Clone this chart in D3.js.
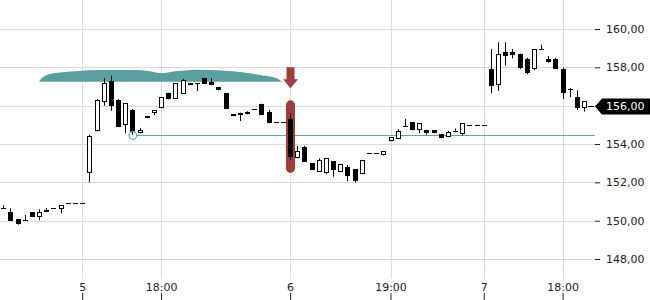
<!DOCTYPE html>
<html lang="de">
<head>
<meta charset="UTF-8">
<title>Kursverlauf</title>
<script src="https://cdn.jsdelivr.net/npm/d3@7/dist/d3.min.js"></script>
<style>
    body { margin: 0; background: #fff; }
    text { font-family: "DejaVu Sans", sans-serif; }
</style>
</head>
<body>
<svg width="650" height="300" id="mainsvg"></svg>
<script>
    // candles (30 min)
    const opens = [150.68, 150.44, 150.07, 150.02, 150.44, 150.18, 150.56, 150.66, 150.63, 150.91, 150.91, 150.91,
        152.47, 154.66, 156.21, 157.29, 156.30, 154.98, 155.77, 154.56, 155.34, 155.63, 155.86, 156.68, 156.35, 156.61,
        157.20, 157.17, 157.44, 157.23, 156.96, 156.66, 155.57, 155.63, 155.65, 155.83, 156.10, 155.69, 155.15, 155.15,
        155.30, 153.25, 153.83, 152.99, 152.56, 152.47, 153.11, 152.56, 152.80, 152.68, 152.42, 153.55, 153.55, 153.40,
        154.14, 154.25, 154.94, 155.13, 154.73, 154.73, 154.73, 154.51, 154.35, 154.69, 154.51, 154.98, 154.98, 154.98,
        157.91, 157.06, 158.80, 158.80, 158.71, 158.45, 157.90, 158.94, 158.43, 158.43, 157.91, 156.92, 156.44, 155.86];
    const highs = [150.80, 150.64, 150.07, 150.30, 150.44, 150.59, 150.66, 150.66, 150.80, 150.91, 150.91, 150.91,
        154.47, 156.35, 157.43, 157.56, 156.35, 156.12, 155.83, 154.84, 155.45, 155.77, 156.45, 156.68, 157.17, 157.39,
        157.20, 157.17, 157.44, 157.43, 156.96, 156.66, 155.57, 155.63, 155.71, 155.83, 156.10, 155.77, 155.15, 155.15,
        155.60, 153.90, 153.90, 152.99, 153.25, 153.25, 153.11, 152.94, 152.90, 152.68, 153.17, 153.55, 153.55, 153.62,
        154.35, 154.78, 155.30, 155.13, 155.08, 154.73, 154.73, 154.51, 154.69, 154.81, 155.08, 154.98, 154.98, 154.98,
        158.96, 159.31, 159.31, 158.94, 158.71, 158.50, 158.96, 159.18, 158.59, 158.49, 158.00, 156.92, 156.80, 156.24];
    const lows = [150.68, 150.00, 149.79, 150.02, 150.21, 150.02, 150.47, 150.66, 150.38, 150.91, 150.91, 150.91,
        152.00, 154.66, 156.00, 155.74, 154.90, 154.56, 154.47, 154.56, 155.34, 155.51, 155.86, 156.33, 156.35, 156.61,
        157.09, 156.76, 157.13, 157.09, 156.80, 155.84, 155.45, 155.20, 155.55, 155.83, 155.50, 155.08, 155.15, 155.15,
        153.17, 153.25, 153.08, 152.64, 152.56, 152.42, 152.29, 152.56, 152.07, 151.98, 152.42, 153.55, 153.55, 153.40,
        154.14, 154.25, 154.94, 154.71, 154.56, 154.49, 154.56, 154.30, 154.35, 154.69, 154.45, 154.98, 154.98, 154.98,
        156.65, 156.77, 158.09, 158.47, 157.91, 157.64, 157.85, 158.94, 158.24, 157.93, 156.35, 156.44, 155.77, 155.69];
    const closes = [150.68, 150.00, 149.84, 150.02, 150.21, 150.44, 150.47, 150.66, 150.80, 150.91, 150.91, 150.91,
        154.42, 156.30, 157.17, 156.00, 154.90, 156.12, 154.63, 154.73, 155.45, 155.77, 156.45, 156.33, 157.17, 157.34,
        157.09, 157.17, 157.13, 157.09, 156.80, 155.84, 155.45, 155.53, 155.55, 155.83, 155.50, 155.08, 155.15, 155.15,
        153.31, 153.65, 153.08, 152.64, 153.17, 153.25, 152.64, 152.94, 152.35, 152.09, 153.17, 153.55, 153.55, 153.62,
        154.35, 154.68, 154.94, 154.71, 155.08, 154.56, 154.56, 154.30, 154.61, 154.69, 155.08, 154.98, 154.98, 154.98,
        157.01, 158.70, 158.61, 158.66, 157.98, 157.72, 158.96, 158.94, 158.29, 157.93, 156.65, 156.85, 155.88, 156.24];

    const tickIdx = [11, 22, 40, 54, 67, 78];
    const tickLabels = ['5', '18:00', '6', '19:00', '7', '18:00'];
    const priceTicks = [148, 150, 152, 154, 156, 158, 160];

    const lastPrice = 156.00;
    const levelPrice = 154.45;
    const levelIdx = 18;
    const eventIdx = 40;

    // teal band (index, upper price), base price
    const bandIdx = [4.98, 5.3, 5.8, 7.2, 10, 13.5, 18.4, 20.5, 22.0, 24.0, 27.4, 32.0, 35.8, 38.2, 39.0];
    const bandTop = [157.25, 157.42, 157.55, 157.70, 157.80, 157.86, 157.86, 157.80, 157.70, 157.80, 157.88, 157.80, 157.60, 157.42, 157.22];
    const bandBase = 157.25;

    const svg = d3.select('#mainsvg');
    const plotW = 595, plotH = 279;

    const xScale = d3.scaleLinear().domain([0, 81]).range([3.3, 584.1]);
    const yScale = d3.scaleLinear().domain([148, 160]).range([259, 29]);
    const fmt = d3.formatLocale({decimal: ',', thousands: '.', grouping: [3], currency: ['', '']}).format('.2f');

    svg.append('defs').append('clipPath').attr('id', 'plot')
        .append('rect').attr('width', plotW).attr('height', plotH);

    // grid
    const grid = svg.append('g').attr('stroke', '#dadada').attr('stroke-width', 1);
    priceTicks.forEach(p => {
        const y = Math.round(yScale(p)) + 0.5;
        grid.append('line').attr('x1', 0).attr('x2', plotW).attr('y1', y).attr('y2', y);
    });
    tickIdx.forEach(i => {
        const x = Math.round(xScale(i)) + 0.5;
        grid.append('line').attr('x1', x).attr('x2', x).attr('y1', 0).attr('y2', plotH);
    });

    const g = svg.append('g').attr('clip-path', 'url(#plot)');

    // band
    const band = d3.area()
        .x(d => xScale(d[0]))
        .y0(yScale(bandBase))
        .y1(d => yScale(d[1]))
        .curve(d3.curveMonotoneX);
    g.append('path')
        .datum(bandIdx.map((d, i) => [d, bandTop[i]]))
        .attr('d', band)
        .attr('fill', '#5a9ea0');

    // level line + marker
    const ly = Math.round(yScale(levelPrice)) + 0.5;
    g.append('line')
        .attr('x1', xScale(levelIdx) + 4).attr('x2', plotW)
        .attr('y1', ly).attr('y2', ly)
        .attr('stroke', '#6b9f9f').attr('stroke-width', 1);

    // event highlight
    const ex = Math.round(xScale(eventIdx)) + 0.5;
    const eTop = yScale(highs[eventIdx]) - 13;
    const eBot = yScale(lows[eventIdx]) + 13;
    g.append('rect')
        .attr('x', ex - 4.5).attr('y', eTop)
        .attr('width', 9).attr('height', eBot - eTop)
        .attr('rx', 4.5)
        .attr('fill', '#9f3d38');
    const tip = eTop - 12;
    g.append('path')
        .attr('d', `M${ex - 4},${tip - 21} H${ex + 4} V${tip - 9} H${ex + 7.5} L${ex},${tip} L${ex - 7.5},${tip - 9} H${ex - 4} Z`)
        .attr('fill', '#9f3d38');

    // candles
    const candles = g.append('g');
    opens.forEach((o, i) => {
        const c = closes[i];
        const cx = Math.round(xScale(i));
        const yH = yScale(highs[i]), yL = yScale(lows[i]);
        const yTop = yScale(Math.max(o, c)), yBot = yScale(Math.min(o, c));
        if (yL - yH > 0.5) {
            candles.append('line')
                .attr('x1', cx + 0.5).attr('x2', cx + 0.5)
                .attr('y1', yH).attr('y2', yL)
                .attr('stroke', '#000').attr('stroke-width', 1);
        }
        if (yBot - yTop < 1.5) {
            const y = Math.round((yTop + yBot) / 2) + 0.5;
            candles.append('line')
                .attr('x1', cx - 2).attr('x2', cx + 3)
                .attr('y1', y).attr('y2', y)
                .attr('stroke', '#000').attr('stroke-width', 1);
        } else if (c > o) {
            candles.append('rect')
                .attr('x', cx - 1.5).attr('y', Math.round(yTop) + 0.5)
                .attr('width', 4).attr('height', Math.max(Math.round(yBot) - Math.round(yTop) - 1, 1))
                .attr('fill', '#fff').attr('stroke', '#000').attr('stroke-width', 1);
        } else {
            candles.append('rect')
                .attr('x', cx - 2).attr('y', Math.round(yTop))
                .attr('width', 5).attr('height', Math.round(yBot) - Math.round(yTop))
                .attr('fill', '#000');
        }
    });

    // level marker circle
    g.append('circle')
        .attr('cx', xScale(levelIdx) + 0.5).attr('cy', ly)
        .attr('r', 3.8)
        .attr('fill', 'none').attr('stroke', '#6aa6a6').attr('stroke-width', 1.2);

    // right axis
    const yAxis = d3.axisRight(yScale).tickValues(priceTicks).tickSize(5).tickPadding(6).tickFormat(fmt);
    const ya = svg.append('g').attr('transform', `translate(${plotW},0)`).call(yAxis);
    ya.select('.domain').remove();
    ya.selectAll('.tick line').attr('stroke', '#222');
    ya.selectAll('.tick text').attr('fill', '#222').attr('font-size', 11).attr('font-family', 'DejaVu Sans');

    // bottom axis (labels above ticks)
    const xAxis = d3.axisTop(xScale).tickValues(tickIdx).tickSize(7).tickPadding(2)
        .tickFormat((d, i) => tickLabels[i]);
    const xa = svg.append('g').attr('transform', 'translate(0,300)').call(xAxis);
    xa.select('.domain').remove();
    xa.selectAll('.tick line').attr('stroke', '#222');
    xa.selectAll('.tick text').attr('fill', '#222').attr('font-size', 11).attr('font-family', 'DejaVu Sans');

    // last price label
    const lp = Math.round(yScale(lastPrice)) + 0.5;
    svg.append('line')
        .attr('x1', xScale(opens.length - 1) + 4).attr('x2', plotW - 1)
        .attr('y1', lp).attr('y2', lp)
        .attr('stroke', '#000');
    svg.append('path')
        .attr('d', `M${plotW},${lp} L${plotW + 7},${lp - 8} H650 V${lp + 8} H${plotW + 7} Z`)
        .attr('fill', '#000');
    svg.append('text')
        .attr('x', 606).attr('y', lp)
        .attr('dy', '0.35em')
        .attr('fill', '#fff')
        .attr('font-size', 11)
        .text(fmt(lastPrice));
</script>
</body>
</html>
